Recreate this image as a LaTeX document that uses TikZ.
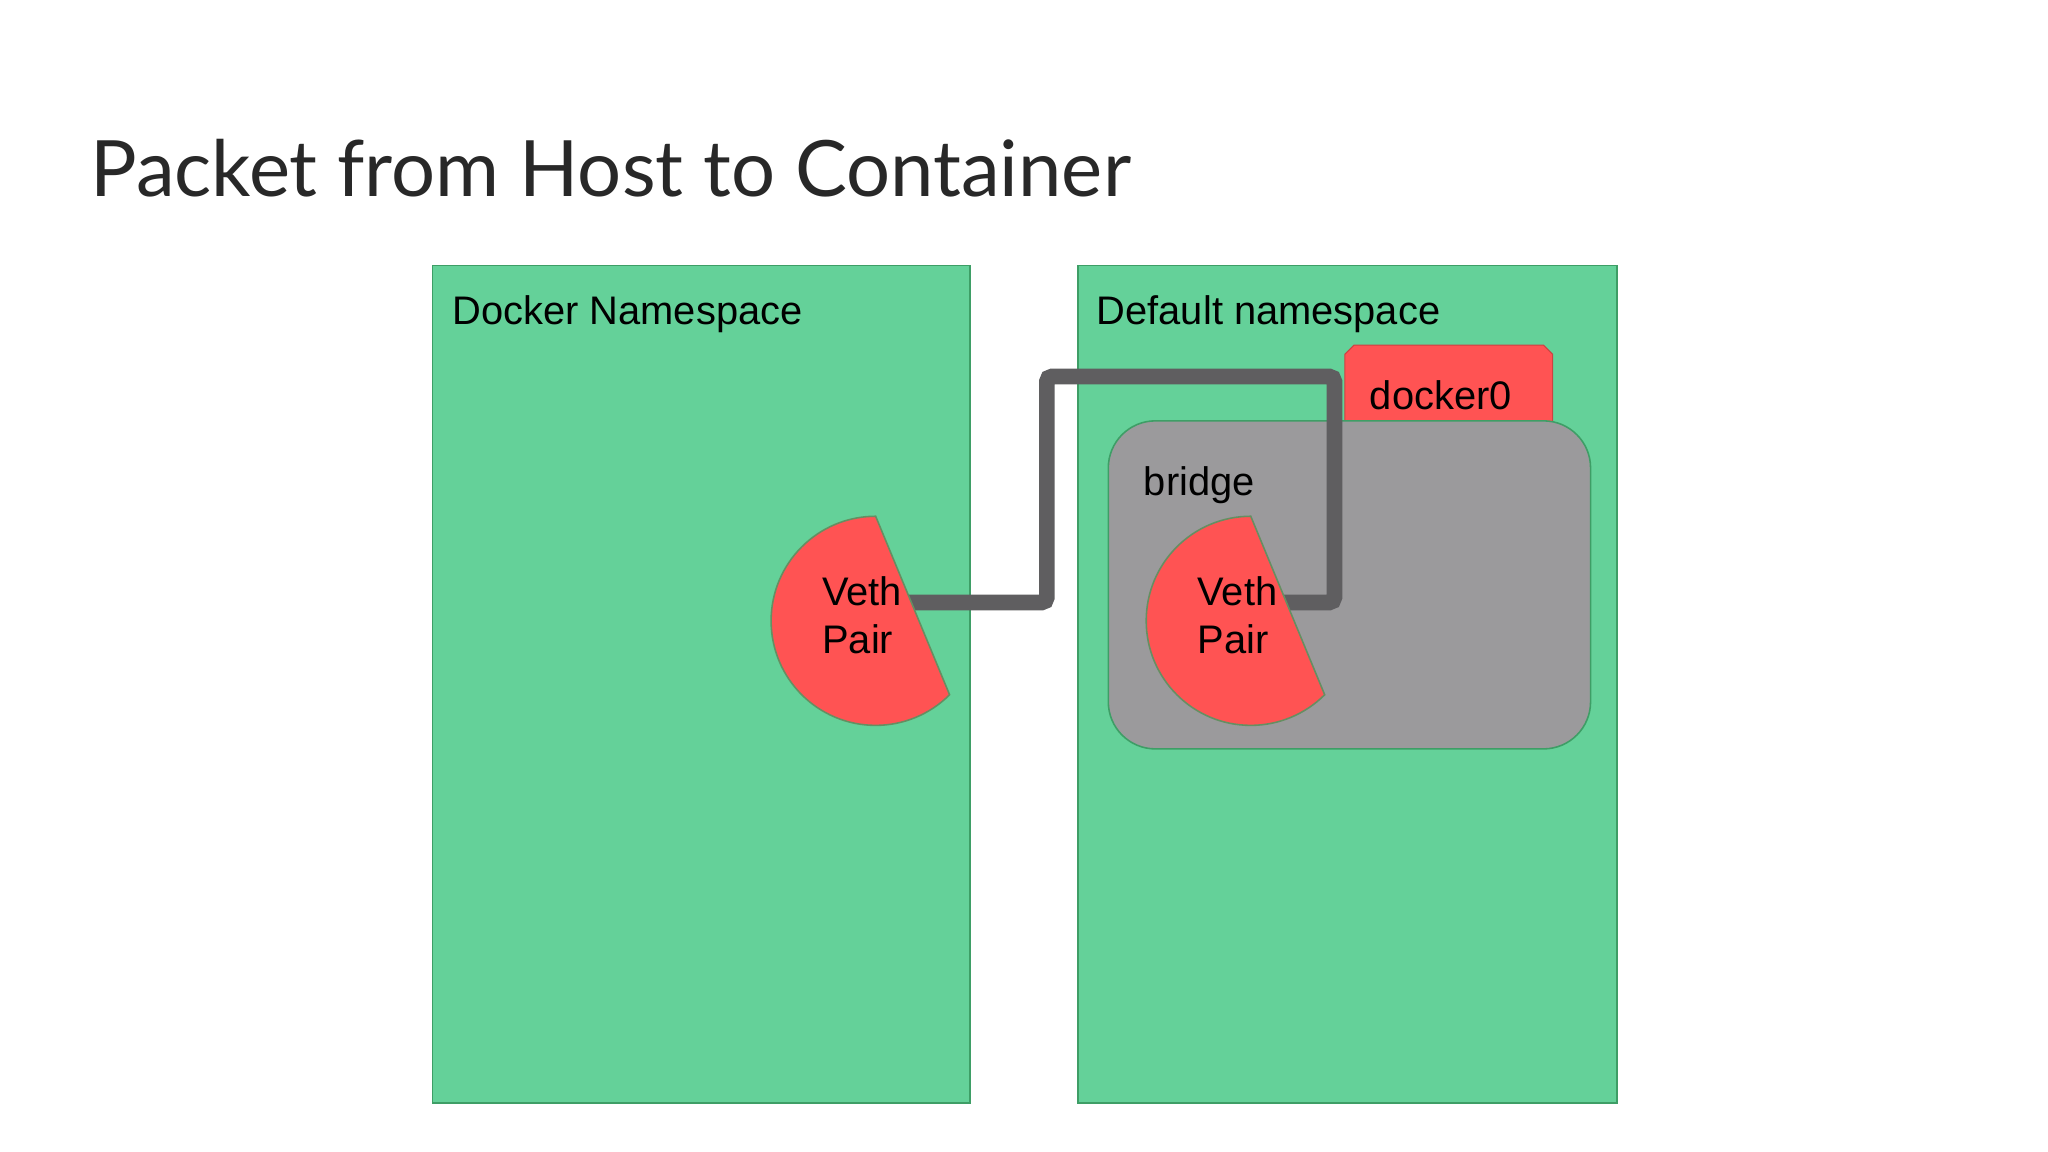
\documentclass[tikz,border=0pt]{standalone}
\usepackage{fontspec}
\setmainfont{Liberation Sans}
\newfontfamily\titlefont{Lato}
\definecolor{nsgreen}{RGB}{100,209,153}
\definecolor{nsborder}{RGB}{62,158,102}
\definecolor{vethred}{RGB}{255,83,83}
\definecolor{bridgegray}{RGB}{155,154,156}
\definecolor{wiregray}{RGB}{95,94,96}
\definecolor{titlegray}{RGB}{40,40,40}
\begin{document}
\begin{tikzpicture}[x=1pt,y=-1pt,
  nsbox/.style={fill=nsgreen,draw=nsborder,line width=1.2pt},
  lbl/.style={anchor=base west,inner sep=0pt,font=\fontsize{30.5}{36}\selectfont,text=black},
  vethlbl/.style={anchor=base west,inner sep=0pt,align=left,font=\fontsize{30.5}{37}\selectfont,text=black},
  pie/.style={fill=vethred,draw=nsborder!80!vethred,line width=1.2pt},
  wire/.style={draw=wiregray,line width=12pt,rounded corners=4pt}]
\useasboundingbox (0,0) rectangle (1567,881.4);
\fill[white] (0,0) rectangle (1567,881.4);
% title
\node[anchor=base west,inner sep=0pt,text=titlegray,font=\titlefont\fontsize{59.5}{62}\selectfont] (title) at (69,150) {Packet from Host to Container};
% namespaces
\draw[nsbox] (331,203) rectangle (742,844);
\node[lbl] (dockerns) at (346,248) {Docker Namespace};
\draw[nsbox] (825,203) rectangle (1237,844);
\node[lbl] (defaultns) at (839,248) {Default namespace};
% docker0 tab
\draw[fill=vethred,draw=vethred!80!black,line width=0.8pt] (1029,330) -- (1029,271) -- (1036,264) -- (1181,264) -- (1188,271) -- (1188,330);
\node[lbl] (docker0) at (1048,313) {docker0};
% bridge
\draw[fill=bridgegray,draw=nsborder,line width=1.2pt,rounded corners=36pt] (848,322) rectangle (1217,573);
\node[lbl] (bridge) at (875,379) {bridge};
% wire
\coordinate (lpend) at (690,461);
\coordinate (wl) at (801,288);
\coordinate (wr) at (1021,461);
\coordinate (rpend) at (977,461);
\draw[wire] (lpend) -| (wl) -| (wr) -- (rpend);
% veth pairs
\coordinate (lp) at (670,475);
\coordinate (rp) at (957,475);
\draw[pie] (lp) ++(270:80) arc[start angle=270,end angle=45,radius=80] -- cycle;
\draw[pie] (rp) ++(270:80) arc[start angle=270,end angle=45,radius=80] -- cycle;
\node[vethlbl] (lveth) at (629,500) {Veth\\Pair};
\node[vethlbl] (rveth) at (916,500) {Veth\\Pair};
\end{tikzpicture}
\end{document}
